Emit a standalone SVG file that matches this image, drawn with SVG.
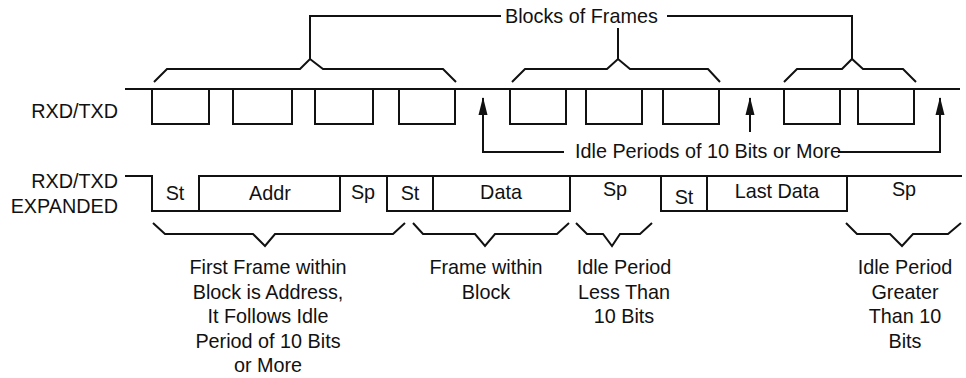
<svg xmlns="http://www.w3.org/2000/svg" width="966" height="378" viewBox="0 0 966 378">
<style>
.ln{fill:none;stroke:#111;stroke-width:2;stroke-linejoin:miter;stroke-linecap:butt}
.t{font-family:"Liberation Sans",Arial,sans-serif;font-size:19.8px;fill:#111}
.m{text-anchor:middle}
.e{text-anchor:end}
</style>
<defs>
<marker id="ah" markerWidth="18" markerHeight="10" refX="17" refY="5" orient="auto" markerUnits="userSpaceOnUse" viewBox="0 0 18 10">
<path d="M18,5 L0,0.5 L0,9.5 Z" fill="#111"/>
</marker>
</defs>
<rect width="966" height="378" fill="#fff"/>

<g id="labels">
<text class="t e" x="118" y="118">RXD/TXD</text>
<text class="t e" x="118" y="188">RXD/TXD</text>
<text class="t e" x="118" y="213">EXPANDED</text>
</g>

<g id="rxd-waveform">
<path class="ln" d="M125,89 H960 M152,89 V124 H209 V89 M233,89 V124 H292 V89 M315,89 V124 H373 V89 M399,89 V124 H455 V89 M510,89 V124 H566 V89 M586,89 V124 H642 V89 M663,89 V124 H719 V89 M784,89 V124 H840 V89 M858,89 V124 H914 V89"/>
</g>

<g id="blocks-of-frames">
<text class="t" x="505" y="23">Blocks of Frames</text>
<path class="ln" d="M154,82 L167,69 H300 L310,59 L323,69 H443 L456,82"/>
<path class="ln" d="M512,82 L525,69 H607 L618,59 L630,69 H708 L720,82"/>
<path class="ln" d="M784,82 L797,69 H842 L852,59 L863,69 H903 L916,82"/>
</g>

<g id="idle-periods">
<text class="t" x="575" y="158">Idle Periods of 10 Bits or More</text>
</g>

<g id="expanded-waveform">
<path class="ln" d="M125,176 H152 V211 H199 V176 H433 M199,211 H340 V176 M387,176 V211 H433 V176 H962 M433,211 H570 V176 M661,176 V211 H847 V176 M707,176 V211"/>
<text class="t m" x="175" y="200">St</text>
<text class="t m" x="270" y="200">Addr</text>
<text class="t m" x="363" y="199">Sp</text>
<text class="t m" x="410" y="200">St</text>
<text class="t m" x="501" y="199">Data</text>
<text class="t m" x="615" y="196">Sp</text>
<text class="t m" x="684" y="204">St</text>
<text class="t m" x="777" y="198">Last Data</text>
<text class="t m" x="904" y="196">Sp</text>
</g>

<g id="note-first-frame">
<path class="ln" d="M153,223 L165,234 H253 L265,246 L275,234 H393 L405,223"/>
<text class="t m" x="268" y="274">First Frame within</text>
<text class="t m" x="268" y="299">Block is Address,</text>
<text class="t m" x="268" y="323">It Follows Idle</text>
<text class="t m" x="268" y="348">Period of 10 Bits</text>
<text class="t m" x="268" y="372">or More</text>
</g>

<g id="note-frame-within">
<path class="ln" d="M413,223 L423,234 H475 L485,246 L495,234 H557 L569,223"/>
<text class="t m" x="486" y="274">Frame within</text>
<text class="t m" x="486" y="299">Block</text>
</g>

<g id="note-idle-less">
<path class="ln" d="M576,223 L587,234 H603 L612,246 L620,234 H640 L652,223"/>
<text class="t m" x="624" y="274">Idle Period</text>
<text class="t m" x="624" y="299">Less Than</text>
<text class="t m" x="624" y="323">10 Bits</text>
</g>

<g id="note-idle-greater">
<path class="ln" d="M846,223 L857,234 H890 L902,246 L913,234 H948 L961,223"/>
<text class="t m" x="905" y="274">Idle Period</text>
<text class="t m" x="905" y="299">Greater</text>
<text class="t m" x="905" y="323">Than 10</text>
<text class="t m" x="905" y="348">Bits</text>
</g>

<g id="connectors">
<path class="ln" d="M310,59 V16 H501 M667,16 H852 V59"/>
<path class="ln" d="M618,59 V28"/>
<path class="ln" d="M564,152 H483 V98" marker-end="url(#ah)"/>
<path class="ln" d="M750,132 V98" marker-end="url(#ah)"/>
<path class="ln" d="M838,152 H940 V98" marker-end="url(#ah)"/>
</g>
</svg>
